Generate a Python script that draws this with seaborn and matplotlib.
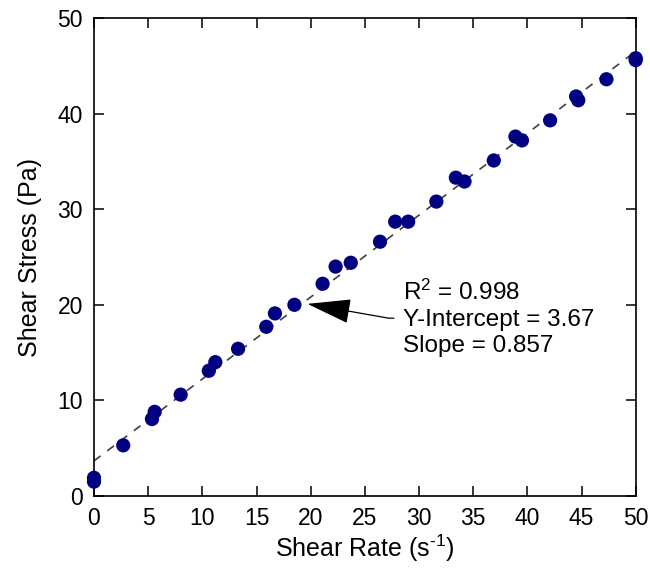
import numpy as np
import pandas as pd
import matplotlib
matplotlib.use("Agg")
import matplotlib.pyplot as plt
import seaborn as sns

# Measured shear rate (1/s) and shear stress (Pa)
shear_rate = [0.0, 0.0, 2.7, 5.35, 5.6, 8.0, 10.6, 11.2, 13.3, 15.9, 16.7, 18.5,
              21.1, 22.3, 23.7, 26.4, 27.8, 29.0, 31.6, 33.4, 34.2, 36.9, 38.9,
              39.5, 42.1, 44.5, 44.7, 47.3, 50.0, 50.0]
shear_stress = [1.9, 1.5, 5.3, 8.05, 8.8, 10.6, 13.1, 14.0, 15.4, 17.7, 19.1, 20.0,
                22.2, 24.0, 24.4, 26.6, 28.7, 28.7, 30.8, 33.3, 32.9, 35.1, 37.6,
                37.2, 39.3, 41.8, 41.4, 43.6, 45.8, 45.6]

# Linear fit statistics
r_squared = 0.998
intercept = 3.67
slope = 0.857

x_ticks = [0, 5, 10, 15, 20, 25, 30, 35, 40, 45, 50]
y_ticks = [0, 10, 20, 30, 40, 50]

sns.set_style("white")
plt.rcParams["font.family"] = ["Liberation Sans", "DejaVu Sans"]
plt.rcParams.update({
    "text.color": "black",
    "axes.labelcolor": "black",
    "xtick.color": "black",
    "ytick.color": "black",
    "mathtext.fontset": "custom",
    "mathtext.rm": "Liberation Sans",
    "mathtext.it": "Liberation Sans",
    "mathtext.default": "regular",
})

df = pd.DataFrame({"rate": shear_rate, "stress": shear_stress})

fig = plt.figure(figsize=(6.5, 5.68), dpi=100)
ax = fig.add_axes([0.1446, 0.1268, 0.8334, 0.8414])

fit_x = np.array([x_ticks[0], x_ticks[-1]], dtype=float)
fit = pd.DataFrame({"x": fit_x, "y": intercept + slope * fit_x})
sns.lineplot(data=fit, x="x", y="y", ax=ax, color="#404040", lw=1.2,
             linestyle=(0, (5, 5)), zorder=2)

sns.scatterplot(data=df, x="rate", y="stress", ax=ax, color="#000080",
                s=105, edgecolor="none", zorder=5, clip_on=False)

ax.set_xlim(0, 50)
ax.set_ylim(0, 50)
ax.set_xticks(x_ticks)
ax.set_yticks(y_ticks)
ax.tick_params(direction="in", length=7, width=1.1, labelsize=16.5, pad=8,
               top=True, right=True, left=True, bottom=True, color="black",
               labelcolor="black")
for sp in ax.spines.values():
    sp.set_linewidth(1.2)
    sp.set_color("black")
    sp.set_zorder(3)

ax.set_xlabel(r"Shear Rate (s$^{\text{-1}}$)", fontsize=18, labelpad=2,
              color="black")
ax.set_ylabel("Shear Stress (Pa)", fontsize=18, labelpad=11, color="black")

label = (f"R$^2$ = {r_squared:.3f}\n"
         f"Y-Intercept = {intercept:.2f}\n"
         f"Slope = {slope:.3f}")
ax.annotate(label, xy=(19.7, 20.1), xytext=(28.5, 18.6),
            fontsize=17.5, va="center", ha="left", linespacing=1.22,
            color="black",
            arrowprops=dict(arrowstyle="-|>,head_length=1.6,head_width=0.45",
                            color="black", lw=0.9, shrinkA=4, shrinkB=0,
                            connectionstyle="angle,angleA=0,angleB=-10,rad=0"))

fig.savefig("out.png", dpi=100)
